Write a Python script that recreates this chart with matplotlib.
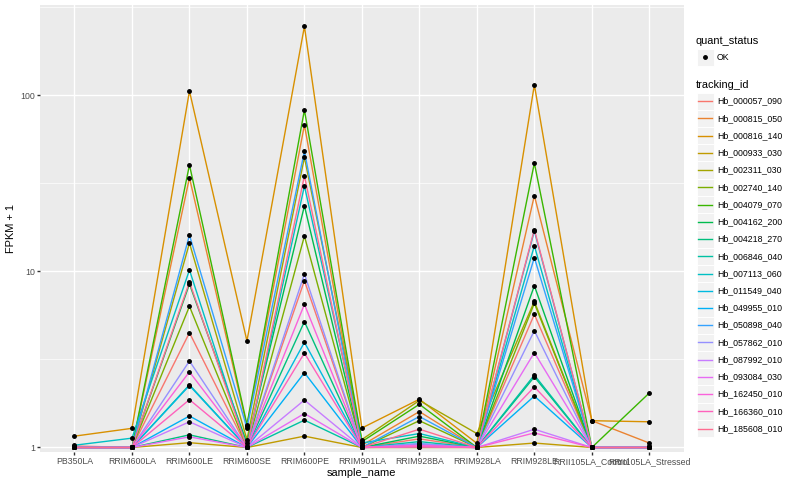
import matplotlib
matplotlib.use("Agg")
import matplotlib.pyplot as plt
from matplotlib.patches import Rectangle
from matplotlib.lines import Line2D
from matplotlib.ticker import NullFormatter
import numpy as np

plt.rcParams["font.family"] = ["Liberation Sans", "DejaVu Sans"]

samples = ["PB350LA", "RRIM600LA", "RRIM600LE", "RRIM600SE", "RRIM600PE",
           "RRIM901LA", "RRIM928BA", "RRIM928LA", "RRIM928LE",
           "RRII105LA_Control", "RRII105LA_Stressed"]

tracking_ids = ["Hb_000057_090", "Hb_000815_050", "Hb_000816_140", "Hb_000933_030",
                "Hb_002311_030", "Hb_002740_140", "Hb_004079_070", "Hb_004162_200",
                "Hb_004218_270", "Hb_006846_040", "Hb_007113_060", "Hb_011549_040",
                "Hb_049955_010", "Hb_050898_040", "Hb_057862_010", "Hb_087992_010",
                "Hb_093084_030", "Hb_162450_010", "Hb_166360_010", "Hb_185608_010"]

# FPKM + 1, one row per tracking_id, one column per sample
fpkm_plus1 = [
    [1.02, 1.0, 4.49, 1.0, 8.87, 1.0, 1.12, 1.0, 5.71, 1.0, 1.0],
    [1.01, 1.0, 34.1, 1.32, 68.0, 1.03, 1.60, 1.0, 27.0, 1.42, 1.06],
    [1.16, 1.285, 106, 4.03, 247, 1.29, 1.88, 1.056, 115, 1.42, 1.40],
    [1.0, 1.0, 1.065, 1.0, 1.16, 1.0, 1.0, 1.0, 1.06, 1.0, 1.0],
    [1.0, 1.0, 14.5, 1.11, 44.5, 1.11, 1.85, 1.20, 6.76, 1.0, 1.0],
    [1.0, 1.0, 6.34, 1.0, 15.9, 1.0, 1.42, 1.0, 6.6, 1.0, 1.0],
    [1.0, 1.0, 40.3, 1.35, 82.7, 1.08, 1.76, 1.0, 41.3, 1.0, 2.04],
    [1.0, 1.0, 8.49, 1.06, 23.6, 1.0, 1.16, 1.0, 8.30, 1.0, 1.0],
    [1.0, 1.0, 1.18, 1.0, 5.19, 1.0, 1.03, 1.0, 2.52, 1.0, 1.0],
    [1.0, 1.0, 2.27, 1.0, 1.43, 1.0, 1.08, 1.0, 2.58, 1.0, 1.0],
    [1.03, 1.13, 10.2, 1.0, 30.6, 1.06, 1.20, 1.0, 14.0, 1.0, 1.0],
    [1.0, 1.0, 2.25, 1.0, 3.96, 1.0, 1.05, 1.0, 17.0, 1.0, 1.0],
    [1.0, 1.0, 1.51, 1.0, 2.66, 1.0, 1.02, 1.0, 1.96, 1.0, 1.0],
    [1.0, 1.0, 16.1, 1.29, 48.2, 1.0, 1.50, 1.0, 12.0, 1.0, 1.0],
    [1.0, 1.0, 3.10, 1.0, 9.68, 1.0, 1.05, 1.0, 4.61, 1.0, 1.0],
    [1.0, 1.0, 1.40, 1.0, 1.86, 1.0, 1.01, 1.0, 1.27, 1.0, 1.0],
    [1.0, 1.0, 1.15, 1.0, 1.56, 1.0, 1.02, 1.0, 3.46, 1.0, 1.0],
    [1.0, 1.0, 2.69, 1.0, 6.51, 1.0, 1.03, 1.0, 1.21, 1.0, 1.0],
    [1.0, 1.0, 1.87, 1.0, 3.44, 1.0, 1.01, 1.0, 2.21, 1.0, 1.0],
    [1.0, 1.0, 8.72, 1.0, 34.9, 1.0, 1.27, 1.0, 17.3, 1.0, 1.0],
]

colors = ["#F8766D", "#EA8331", "#D89000", "#C09B00", "#A3A500", "#7CAE00", "#39B600",
          "#00BB4E", "#00BF7D", "#00C1A3", "#00BFC4", "#00BAE0", "#00B0F6", "#35A2FF",
          "#9590FF", "#C77CFF", "#E76BF3", "#FA62DB", "#FF62BC", "#FF6C91"]

W, H = 800, 500
fig = plt.figure(figsize=(8, 5), dpi=100)


def fx(x):
    return x / W


def fy(y):
    return 1 - y / H


ax = fig.add_axes([fx(40), fy(452), fx(683.8 - 40), (452 - 5.2) / H])
ax.set_facecolor("#EBEBEB")
for s in ax.spines.values():
    s.set_visible(False)

x = np.arange(len(samples))
vals = np.array(fpkm_plus1)

for i, row in enumerate(vals):
    ax.plot(x, row, color=colors[i], lw=1.0, zorder=2)
for row in vals:
    ax.plot(x, row, ls="none", marker="o", ms=2.5, color="black", zorder=3)

ax.set_yscale("log")
ax.set_ylim(10 ** -0.0256, 10 ** 2.513)
ax.set_xlim(-0.6, len(samples) - 0.4)

ax.set_yticks([1, 10, 100])
ax.set_yticklabels(["1", "10", "100"])
ax.set_yticks([10 ** 0.5, 10 ** 1.5, 10 ** 2.5], minor=True)
ax.yaxis.set_minor_formatter(NullFormatter())
ax.set_xticks(x)
ax.set_xticklabels(samples)

ax.tick_params(which="major", length=2.0, width=1.0, color="#333333",
               labelsize=6.3, labelcolor="#4D4D4D", pad=1.6)
ax.tick_params(which="minor", length=0)
ax.grid(which="major", color="white", lw=1.0)
ax.grid(which="minor", axis="y", color="white", lw=0.5)
ax.set_axisbelow(True)

ax.set_xlabel("sample_name", fontsize=7.9, labelpad=1.5)
ax.set_ylabel("FPKM + 1", fontsize=7.9, labelpad=3)

# legend, drawn like ggplot's guide
fig.text(fx(696), fy(40.5), "quant_status", fontsize=7.9, va="center", ha="left")
key = 17.3
fig.patches.append(Rectangle((fx(696.5), fy(57.2 + key / 2)), key / W, key / H,
                             transform=fig.transFigure, facecolor="#F2F2F2",
                             edgecolor="white", lw=0.7))
fig.lines.append(Line2D([fx(696.5 + key / 2)], [fy(57.2)], transform=fig.transFigure,
                        marker="o", ms=2.5, color="black", ls="none"))
fig.text(fx(717), fy(57.2), "OK", fontsize=6.3, va="center", ha="left")

fig.text(fx(696), fy(85), "tracking_id", fontsize=7.9, va="center", ha="left")
for i, tid in enumerate(tracking_ids):
    cy = 101.2 + i * 17.23
    fig.patches.append(Rectangle((fx(696.5), fy(cy + key / 2)), key / W, key / H,
                                 transform=fig.transFigure, facecolor="#F2F2F2",
                                 edgecolor="white", lw=0.7))
    fig.lines.append(Line2D([fx(698), fx(712.3)], [fy(cy), fy(cy)],
                            transform=fig.transFigure, color=colors[i], lw=1.0))
    fig.text(fx(717), fy(cy), tid, fontsize=6.3, va="center", ha="left")

fig.savefig("out.png", dpi=100)
